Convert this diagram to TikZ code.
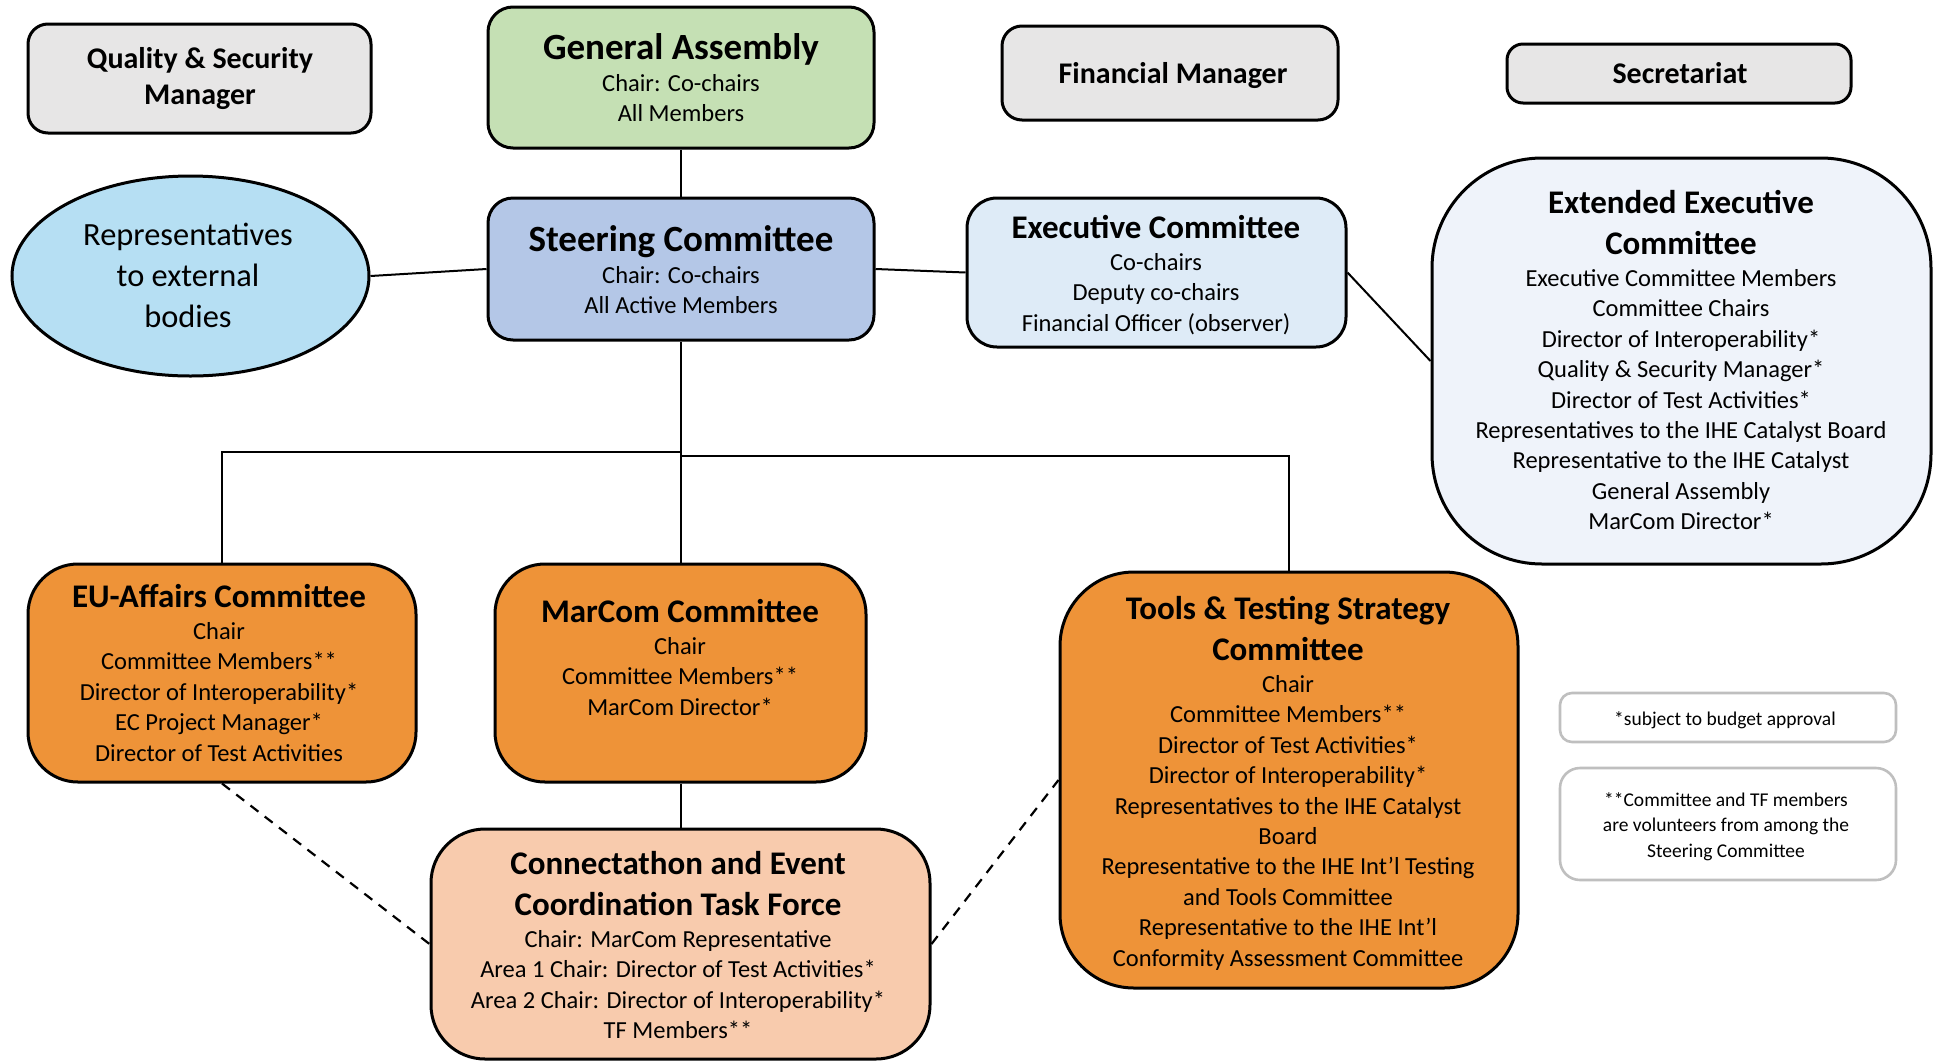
\documentclass[tikz,border=0pt]{standalone}
\usepackage{fontspec}
\setmainfont{Carlito}
\usetikzlibrary{shapes.geometric,fit}
\definecolor{graybox}{HTML}{E7E6E6}
\definecolor{gagreen}{HTML}{C5E0B4}
\definecolor{scblue}{HTML}{B4C7E7}
\definecolor{ellblue}{HTML}{B6DFF3}
\definecolor{exblue}{HTML}{DEEBF7}
\definecolor{extblue}{HTML}{EFF3FA}
\definecolor{orangebox}{HTML}{EE9338}
\definecolor{peach}{HTML}{F8CBAD}
\definecolor{notegray}{HTML}{BFBFBF}
\newcommand\stk[1]{\vtop{\lineskiplimit=-100pt\lineskip=0pt\halign{\hfil##\hfil\cr#1\crcr}}}
\newcommand\tg{\noalign{\vskip5.3pt}}
\newcommand\bg{\noalign{\vskip0.8pt}}
\newcommand\bodyf{\fontsize{12.25pt}{15.2pt}\selectfont}
\newcommand\ttlf{\bfseries\fontsize{16.5pt}{20pt}\selectfont}
\newcommand\bigttlf{\bfseries\fontsize{18.5pt}{22pt}\selectfont}
\newcommand\grayf{\bfseries\fontsize{15pt}{18pt}\selectfont}
\newcommand\ellf{\fontsize{16.2pt}{20.5pt}\selectfont}
\newcommand\notef{\fontsize{9.75pt}{12.75pt}\selectfont}
\begin{document}
\begin{tikzpicture}[x=0.5pt,y=-0.5pt,
  box/.style={draw=black, line width=1.5pt, inner sep=0pt},
  lbl/.style={anchor=base, inner sep=0pt, font=\bodyf},
  conn/.style={draw=black, line width=1pt},
  dconn/.style={conn, line width=1.1pt, dash pattern=on 5pt off 4pt},
  notebox/.style={draw=notegray, line width=1.3pt, inner sep=0pt, fill=white}]
\useasboundingbox (0,0) rectangle (1934,1061);

% boxes
\node[box, fill=graybox, rounded corners=10pt, fit={(28,24) (371,133)}] (qs) {};
\node[box, fill=gagreen, rounded corners=12.5pt, fit={(488,7) (874,148)}] (ga) {};
\node[box, fill=graybox, rounded corners=10pt, fit={(1002,26) (1338,120)}] (fm) {};
\node[box, fill=graybox, rounded corners=8pt, fit={(1507,44) (1851,103)}] (sec) {};
\node[box, ellipse, fill=ellblue, minimum width=178.5pt, minimum height=100pt] (rep) at (190.5,276) {};
\node[box, fill=scblue, rounded corners=12.5pt, fit={(488,198) (874,340)}] (sc) {};
\node[box, fill=exblue, rounded corners=15pt, fit={(967,198) (1346,347)}] (ex) {};
\node[box, fill=extblue, rounded corners=55pt, fit={(1432,158) (1931,564)}] (ext) {};
\node[box, fill=orangebox, rounded corners=25pt, fit={(28,564) (416,782)}] (eu) {};
\node[box, fill=orangebox, rounded corners=25pt, fit={(495,564) (866,782)}] (mc) {};
\node[box, fill=orangebox, rounded corners=37pt, fit={(1060,572) (1518,988)}] (tt) {};
\node[box, fill=peach, rounded corners=27pt, fit={(431,829) (930,1059)}] (cn) {};
\node[notebox, rounded corners=6pt, fit={(1560,693) (1896,742)}] (n1) {};
\node[notebox, rounded corners=10pt, fit={(1560,768) (1896,880)}] (n2) {};

% connectors
\draw[conn] (ga.south) -- (sc.north);
\draw[conn] (rep.east) -- (sc.west);
\draw[conn] (sc.east) -- (ex.west);
\draw[conn] (ex.east) -- (ext.west);
\draw[conn] (sc.south) -- (sc.south |- mc.north);
\coordinate (jl) at (681,452);
\coordinate (jr) at (681,456);
\draw[conn] (jl) -| (eu.north);
\draw[conn] (jr) -| (tt.north);
\draw[conn] (mc.south) -- (cn.north);
\draw[dconn] (eu.south) -- (cn.west);
\draw[dconn] (cn.east) -- (tt.west);

% labels
\node[lbl, font=\grayf] (qsT) at (200,68.5) {\stk{Quality \& Security\cr Manager}};
\node[lbl, font=\grayf] (fmT) at (1173,83.5) {Financial Manager};
\node[lbl, font=\grayf] (secT) at (1680,83.5) {Secretariat};
\node[lbl] (gaT) at (681,59.5) {\stk{{\bigttlf General Assembly}\cr\bg Chair: Co-chairs\cr All Members}};
\node[lbl] (scT) at (681,251.5) {\stk{{\bigttlf Steering Committee}\cr\bg Chair: Co-chairs\cr All Active Members}};
\node[lbl, font=\ellf] (repT) at (188,245) {\stk{Representatives\cr to external\cr bodies}};
\node[lbl] (exT) at (1156,238.5) {\stk{{\ttlf Executive Committee}\cr\bg Co-chairs\cr Deputy co-chairs\cr Financial Officer (observer)}};
\node[lbl] (extT) at (1681,213.5) {\stk{{\ttlf Extended Executive}\cr\tg{\ttlf Committee}\cr\bg
  Executive Committee Members\cr Committee Chairs\cr Director of Interoperability*\cr
  Quality \& Security Manager*\cr Director of Test Activities*\cr
  Representatives to the IHE Catalyst Board\cr Representative to the IHE Catalyst\cr
  General Assembly\cr MarCom Director*}};
\node[lbl] (euT) at (219,607.5) {\stk{{\ttlf EU-Affairs Committee}\cr\bg Chair\cr Committee Members**\cr
  Director of Interoperability*\cr EC Project Manager*\cr Director of Test Activities}};
\node[lbl] (mcT) at (680,622.5) {\stk{{\ttlf MarCom Committee}\cr\bg Chair\cr Committee Members**\cr MarCom Director*}};
\node[lbl] (ttT) at (1288,619.5) {\stk{{\ttlf Tools \& Testing Strategy}\cr\tg{\ttlf Committee}\cr\bg
  Chair\cr Committee Members**\cr Director of Test Activities*\cr Director of Interoperability*\cr
  Representatives to the IHE Catalyst\cr Board\cr
  Representative to the IHE Int’l Testing\cr and Tools Committee\cr
  Representative to the IHE Int’l\cr Conformity Assessment Committee}};
\node[lbl] (cnT) at (678,874.5) {\stk{{\ttlf Connectathon and Event}\cr\tg{\ttlf Coordination Task Force}\cr\bg
  Chair: MarCom Representative\cr Area 1 Chair: Director of Test Activities*\cr
  Area 2 Chair: Director of Interoperability*\cr TF Members**}};
\node[lbl, font=\notef] (n1T) at (1725,725) {*subject to budget approval};
\node[lbl, font=\notef] (n2T) at (1726,806) {\stk{**Committee and TF members\cr are volunteers from among the\cr Steering Committee}};
\end{tikzpicture}
\end{document}
